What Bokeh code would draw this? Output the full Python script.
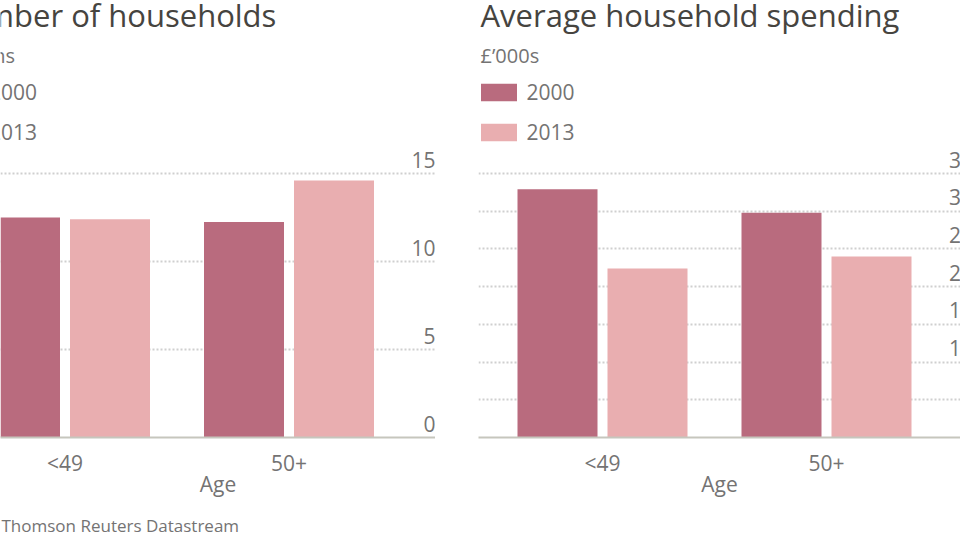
from bokeh.plotting import figure
from bokeh.models import Range1d, FixedTicker, Grid, Label, Legend, LegendItem, Spacer, ColumnDataSource
from bokeh.layouts import row, column
from bokeh.transform import dodge
from bokeh.core.properties import value
from bokeh.embed import file_html
from bokeh.resources import INLINE

# ---------------- data ----------------
ages = ["<49", "50+"]
years = ["2000", "2013"]

households_2000 = [12.5, 12.25]
households_2013 = [12.4, 14.6]
households_ticks = [0, 5, 10, 15]

spending_2000 = [32.9, 29.8]
spending_2013 = [22.4, 24.0]
spending_ticks = [0, 5, 10, 15, 20, 25, 30, 35]

source_text = "Source: Thomson Reuters Datastream"

# ---------------- style ----------------
FONT = "Open Sans"
DESC = 0.27                # font descent, in em
C2000 = "#b96b7e"
C2013 = "#e9aeb0"
TITLE_C = "#46443f"
TEXT_C = "#747373"
GRID_C = "#cfcfcf"
BASE_C = "#c6c6bd"

H = 515
FOOT_H = 18
FRAME_H = 437
BOTTOM = H - FRAME_H
TOP_GRID_PX = 264          # distance of top tick from baseline
GROUP_PX = 224.0
BAR_PX = 80.0
PAIR_PX = 90.0             # centre-to-centre of the two bars in a group
LABEL_RIGHT_PX = 370.5     # right edge of value labels, from first group centre
TEXT_LEFT_PX = -122.0      # left edge of panel texts, from first group centre
SOURCE_LEFT_PX = -127.0    # left edge of the source line, from first group centre
LEFT_W, GAP_W, RIGHT_W = 435, 43, 482
LEFT_G0, RIGHT_G0 = 64.5, 124.0


def header_label(text, x, baseline_from_top, size, color, frame_h=FRAME_H):
    # anchor is the bottom of the text box (baseline + descent)
    y = frame_h - (baseline_from_top + DESC * size)
    return Label(x=x, y=y, x_units="screen", y_units="screen", text=text,
                 text_baseline="bottom", text_font=FONT,
                 text_font_size=f"{size}px", text_color=color)


def panel(title, subtitle, v2000, v2013, ticks, width, g0_px):
    x0 = -g0_px / GROUP_PX
    x1 = (width - g0_px) / GROUP_PX
    y1 = ticks[-1] * FRAME_H / TOP_GRID_PX
    p = figure(width=width, height=H, x_range=Range1d(x0, x1), y_range=Range1d(0, y1),
               toolbar_location=None, output_backend="svg", y_axis_location=None,
               min_border_left=0, min_border_right=0, min_border_top=0,
               min_border_bottom=BOTTOM, outline_line_color=None,
               background_fill_color="white", border_fill_color="white")
    p.xgrid.visible = False
    for g in p.ygrid:
        g.visible = False

    grid = Grid(dimension=1, ticker=FixedTicker(ticks=[t for t in ticks if t != 0]),
                grid_line_color=GRID_C, grid_line_width=2, grid_line_dash="2 2")
    p.add_layout(grid)

    src = ColumnDataSource(dict(idx=list(range(len(ages))), v2000=v2000, v2013=v2013))
    off = PAIR_PX / 2 / GROUP_PX
    bw = BAR_PX / GROUP_PX
    r1 = p.vbar(x=dodge("idx", -off), top="v2000", width=bw, source=src,
                fill_color=C2000, line_color=None)
    r2 = p.vbar(x=dodge("idx", off), top="v2013", width=bw, source=src,
                fill_color=C2013, line_color=None)

    # value labels (drawn just above the gridlines, right-aligned)
    p.text(x=[LABEL_RIGHT_PX / GROUP_PX] * len(ticks), y=ticks, text=[str(t) for t in ticks],
           text_align="right", text_baseline="bottom", y_offset=-6,
           text_font=value(FONT), text_font_size="21px", text_color=TEXT_C)

    ax = p.xaxis[0]
    ax.ticker = FixedTicker(ticks=list(range(len(ages))))
    ax.major_label_overrides = {i: a for i, a in enumerate(ages)}
    ax.major_tick_line_color = None
    ax.minor_tick_line_color = None
    ax.axis_line_color = BASE_C
    ax.axis_line_width = 2
    ax.major_label_standoff = 5
    ax.major_label_text_font = FONT
    ax.major_label_text_font_size = "21px"
    ax.major_label_text_color = TEXT_C
    ax.axis_label = "Age"
    ax.axis_label_text_font = FONT
    ax.axis_label_text_font_size = "21px"
    ax.axis_label_text_font_style = "normal"
    ax.axis_label_text_color = TEXT_C
    ax.axis_label_standoff = -10

    tx = g0_px + TEXT_LEFT_PX
    p.add_layout(header_label(title, tx, 27, 31, TITLE_C))
    p.add_layout(header_label(subtitle, tx, 63, 20, TEXT_C))

    legend = Legend(items=[LegendItem(label=years[0], renderers=[r1]),
                           LegendItem(label=years[1], renderers=[r2])],
                    location=(tx - 4.5, FRAME_H - 146), orientation="vertical",
                    glyph_width=45, glyph_height=22, label_standoff=6, spacing=12,
                    padding=0, margin=0, border_line_color=None, background_fill_alpha=0,
                    label_text_font=FONT, label_text_font_size="21px", label_text_color=TEXT_C,
                    label_height=22)
    p.add_layout(legend)
    return p


left = panel("Number of households", "Millions", households_2000, households_2013,
             households_ticks, LEFT_W, LEFT_G0)
right = panel("Average household spending", "£\u2019000s", spending_2000, spending_2013,
              spending_ticks, RIGHT_W, RIGHT_G0)

# footer with the source line
foot = figure(width=LEFT_W + GAP_W + RIGHT_W, height=FOOT_H, x_range=Range1d(0, 1),
              y_range=Range1d(0, 1), toolbar_location=None, output_backend="svg",
              x_axis_location=None, y_axis_location=None, min_border=0,
              outline_line_color=None, background_fill_color="white",
              border_fill_color="white")
foot.xgrid.visible = False
foot.ygrid.visible = False
foot.add_layout(header_label(source_text, LEFT_G0 + SOURCE_LEFT_PX, 532 - H, 17, TEXT_C,
                             frame_h=FOOT_H))

layout = column(row(left, Spacer(width=GAP_W, height=H), right), foot)
open("out.html", "w").write(file_html(layout, INLINE))
